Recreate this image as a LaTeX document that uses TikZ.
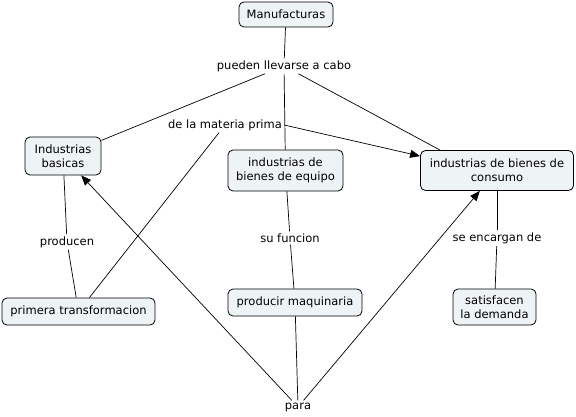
\documentclass[tikz,border=0pt]{standalone}
\usepackage{fontspec}
\setmainfont{DejaVu Sans}
\usetikzlibrary{arrows.meta}
\definecolor{boxfill}{HTML}{EEF3F5}
\tikzset{
  concept/.style={draw, rounded corners=5pt, fill=boxfill, align=center,
    inner xsep=4pt, inner ysep=3pt, line width=0.8pt},
  frase/.style={align=center, inner sep=2pt},
  link/.style={line width=0.7pt},
  freccia/.style={link, -{Triangle[length=10pt,width=8pt]}}
}
\begin{document}
\begin{tikzpicture}[x=1pt, y=-1pt, font=\fontsize{11.5}{14}\selectfont]
    \useasboundingbox (0,0) rectangle (576,417);

    % Concetti
    \node[concept, minimum width=94pt, minimum height=25pt] (manuf) at (286,14.5) {Manufacturas};
    \node[concept, minimum width=76pt, minimum height=38pt] (basicas) at (63,156) {Industrias\\basicas};
    \node[concept, minimum width=115pt, minimum height=41pt] (equipo) at (285.5,170.5) {industrias de\\bienes de equipo};
    \node[concept, minimum width=153pt, minimum height=40pt] (consumo) at (497,170.5) {industrias de bienes de\\consumo};
    \node[concept, minimum width=153pt, minimum height=27pt] (primera) at (78.5,311.5) {primera transformacion};
    \node[concept, minimum width=134pt, minimum height=27pt] (maquinaria) at (295,302.5) {producir maquinaria};
    \node[concept, minimum width=83pt, minimum height=36pt] (demanda) at (494.5,307) {satisfacen\\la demanda};

    % Frasi di collegamento
    \node[frase] (pueden) at (284,66) {pueden llevarse a cabo};
    \node[frase] (materia) at (225,125) {de la materia prima};
    \node[frase] (producen) at (67,242) {producen};
    \node[frase] (funcion) at (290,238) {su funcion};
    \node[frase] (encargan) at (497,238) {se encargan de};
    \node[frase] (para) at (298,407) {para};

    % Collegamenti
    \draw[link] (manuf) -- (pueden);
    \draw[link] (pueden) -- (basicas);
    \draw[link] (pueden) -- (equipo);
    \draw[link] (pueden) -- ([xshift=20pt]consumo.north west);
    \draw[link] (basicas) -- (producen);
    \draw[link] (producen) -- (primera);
    \draw[link] (primera) -- (materia);
    \draw[freccia] (materia.east) -- ([yshift=-6pt]consumo.north west);
    \draw[link] (equipo) -- (funcion);
    \draw[link] (funcion) -- (maquinaria);
    \draw[link] (consumo) -- (encargan);
    \draw[link] (encargan) -- (demanda);
    \draw[link] (maquinaria) -- (para);
    \draw[freccia] (para) -- (basicas);
    \draw[freccia] (para) -- (consumo);
\end{tikzpicture}
\end{document}
